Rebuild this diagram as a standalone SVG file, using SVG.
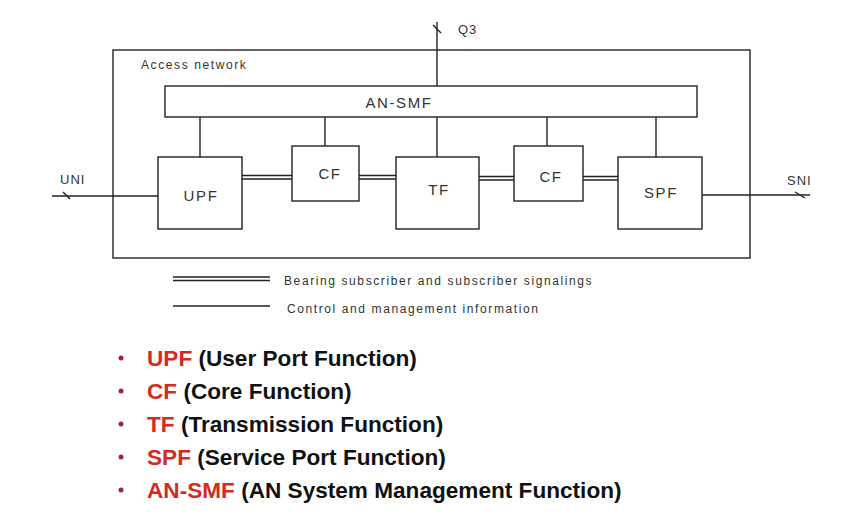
<svg xmlns="http://www.w3.org/2000/svg" width="849" height="521" viewBox="0 0 849 521">
<style>
.box{fill:#fff;stroke:#222;stroke-width:1.4}
.ln{stroke:#222;stroke-width:1.4;fill:none}
.lbl{font-family:"Liberation Sans",Arial,sans-serif;font-size:15px;letter-spacing:1.6px;fill:#333;text-anchor:middle}
.sm{font-family:"Liberation Sans",Arial,sans-serif;font-size:12px;letter-spacing:1.6px;fill:#333}
.io{font-family:"Liberation Sans",Arial,sans-serif;font-size:13px;letter-spacing:1px;fill:#333}
.bl{font-family:"Liberation Sans",Arial,sans-serif;font-size:22.6px;font-weight:bold;fill:#111}
.red{fill:#d52b1e}
.dot{fill:#a3204a}
</style>
<rect width="849" height="521" fill="#fff"/>
<g id="access-network">
<rect class="box" x="113" y="50" width="637" height="208"/>
<text class="sm" x="141" y="69">Access network</text>
</g>
<g id="connectors">
<line class="ln" x1="200" y1="117" x2="200" y2="157"/>
<line class="ln" x1="325" y1="117" x2="325" y2="146"/>
<line class="ln" x1="437" y1="117" x2="437" y2="157"/>
<line class="ln" x1="547" y1="117" x2="547" y2="146"/>
<line class="ln" x1="656" y1="117" x2="656" y2="157"/>
<line class="ln" x1="437" y1="22" x2="437" y2="86"/>
<line class="ln" x1="433" y1="25" x2="441" y2="33"/>
<g class="ln" stroke-width="1.1">
<line x1="242" y1="175.5" x2="292" y2="175.5"/><line x1="242" y1="179" x2="292" y2="179"/>
<line x1="359" y1="175.5" x2="396" y2="175.5"/><line x1="359" y1="179" x2="396" y2="179"/>
<line x1="479" y1="176.5" x2="514" y2="176.5"/><line x1="479" y1="180" x2="514" y2="180"/>
<line x1="583" y1="176.5" x2="618" y2="176.5"/><line x1="583" y1="180" x2="618" y2="180"/>
</g>
<line class="ln" x1="52" y1="196" x2="158" y2="196" stroke-width="2"/>
<line class="ln" x1="63" y1="192" x2="70" y2="199"/>
<line class="ln" x1="702" y1="195" x2="810" y2="195"/>
<line class="ln" x1="795" y1="192" x2="805" y2="198"/>
</g>
<text class="io" x="458" y="34">Q3</text>
<text class="io" x="60" y="184">UNI</text>
<text class="io" x="787" y="185">SNI</text>
<g id="an-smf">
<rect class="box" x="165" y="86" width="532" height="31"/>
<text class="lbl" x="399" y="108">AN-SMF</text>
</g>
<g id="upf">
<rect class="box" x="158" y="157" width="84" height="72"/>
<text class="lbl" x="201" y="201">UPF</text>
</g>
<g id="cf1">
<rect class="box" x="292" y="146" width="67" height="55"/>
<text class="lbl" x="330" y="179">CF</text>
</g>
<g id="tf">
<rect class="box" x="396" y="157" width="83" height="72"/>
<text class="lbl" x="439" y="195">TF</text>
</g>
<g id="cf2">
<rect class="box" x="514" y="146" width="69" height="55"/>
<text class="lbl" x="551" y="182">CF</text>
</g>
<g id="spf">
<rect class="box" x="618" y="157" width="84" height="72"/>
<text class="lbl" x="661" y="198">SPF</text>
</g>
<g id="legend">
<line class="ln" stroke-width="1.1" x1="173" y1="277" x2="270" y2="277"/>
<line class="ln" stroke-width="1.1" x1="173" y1="280.5" x2="270" y2="280.5"/>
<text class="sm" x="284" y="285">Bearing subscriber and subscriber signalings</text>
<line class="ln" stroke-width="1.1" x1="173" y1="306" x2="270" y2="306"/>
<text class="sm" x="287" y="313">Control and management information</text>
</g>
<g id="bullets">
<circle class="dot" cx="121" cy="358" r="2.5"/>
<text class="bl" x="147" y="366"><tspan class="red">UPF</tspan> (User Port Function)</text>
<circle class="dot" cx="121" cy="391" r="2.5"/>
<text class="bl" x="147" y="399"><tspan class="red">CF</tspan> (Core Function)</text>
<circle class="dot" cx="121" cy="424" r="2.5"/>
<text class="bl" x="147" y="432"><tspan class="red">TF</tspan> (Transmission Function)</text>
<circle class="dot" cx="121" cy="457" r="2.5"/>
<text class="bl" x="147" y="465"><tspan class="red">SPF</tspan> (Service Port Function)</text>
<circle class="dot" cx="121" cy="490" r="2.5"/>
<text class="bl" x="147" y="498"><tspan class="red">AN-SMF</tspan> (AN System Management Function)</text>
</g>
</svg>
